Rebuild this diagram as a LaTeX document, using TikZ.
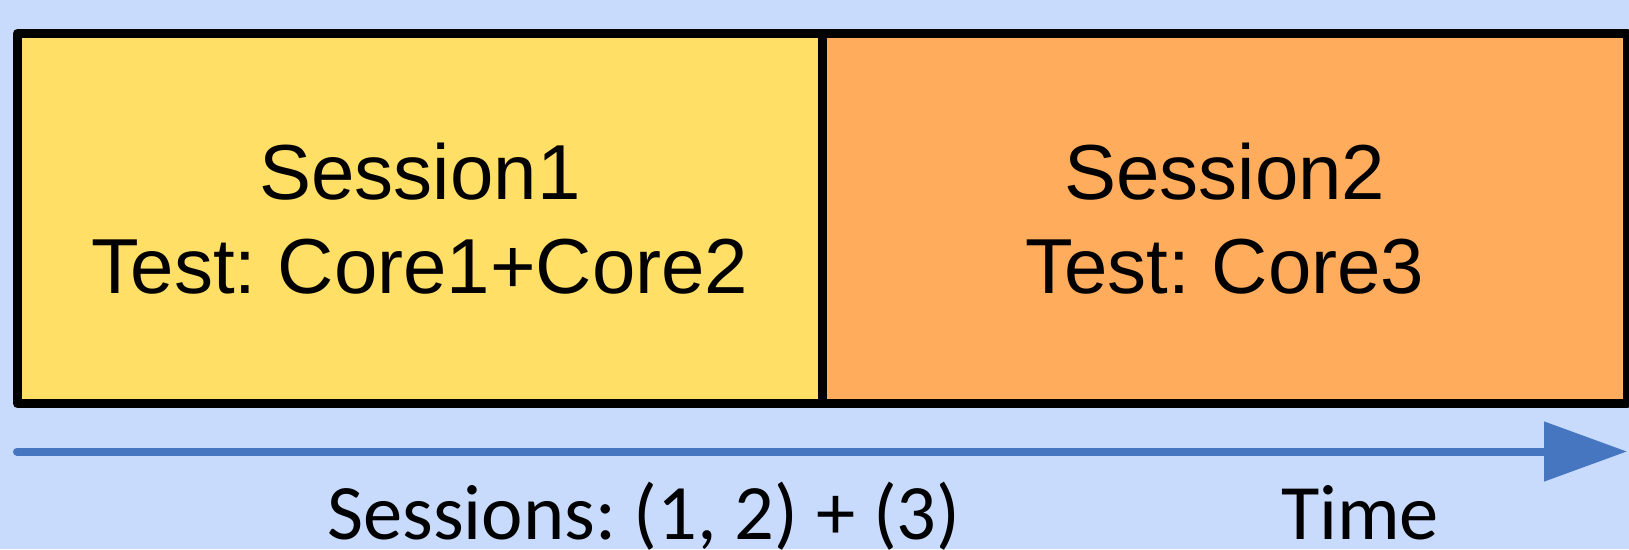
\documentclass[tikz,border=0pt]{standalone}
\usepackage{fontspec}
\setmainfont{Liberation Sans}
\newfontfamily\calibrifont{Carlito}
\usetikzlibrary{arrows.meta}
\definecolor{bgblue}{RGB}{200,219,253}
\definecolor{sessyellow}{RGB}{255,223,102}
\definecolor{sessorange}{RGB}{255,173,92}
\definecolor{timeblue}{RGB}{70,118,192}
\frenchspacing
\begin{document}
\begin{tikzpicture}[x=1pt,y=-1pt,
  sessbox/.style={draw=black, line width=9pt, line join=round, rectangle,
    inner sep=0pt, align=center, minimum height=370pt,
    font=\frenchspacing\fontsize{78}{93.5}\selectfont},
  axislabel/.style={anchor=base, font=\frenchspacing\calibrifont\fontsize{78.5}{90}\selectfont},
  timearrow/.style={draw=timeblue, line width=8pt, line cap=round,
    -{Triangle[length=83pt,width=58pt]}}]
\fill[bgblue] (0,0) rectangle (1629,549);
\useasboundingbox (0,0) rectangle (1629,549);
\node[sessbox, fill=sessyellow, minimum width=805pt] (s1) at (420,218.5)
  {Session1\\Test: Core1+Core2};
\node[sessbox, fill=sessorange, minimum width=804.5pt] (s2) at (1224.75,218.5)
  {Session2\\Test: Core3};
\coordinate (t0) at (17,451.5);
\coordinate (t1) at (1627,451.5);
\draw[timearrow] (t0) -- (t1);
\node[axislabel] (sesslbl) at (644,539) {Sessions: (1, 2) + (3)};
\node[axislabel] (timelbl) at (1360,539) {Time};
\end{tikzpicture}
\end{document}
